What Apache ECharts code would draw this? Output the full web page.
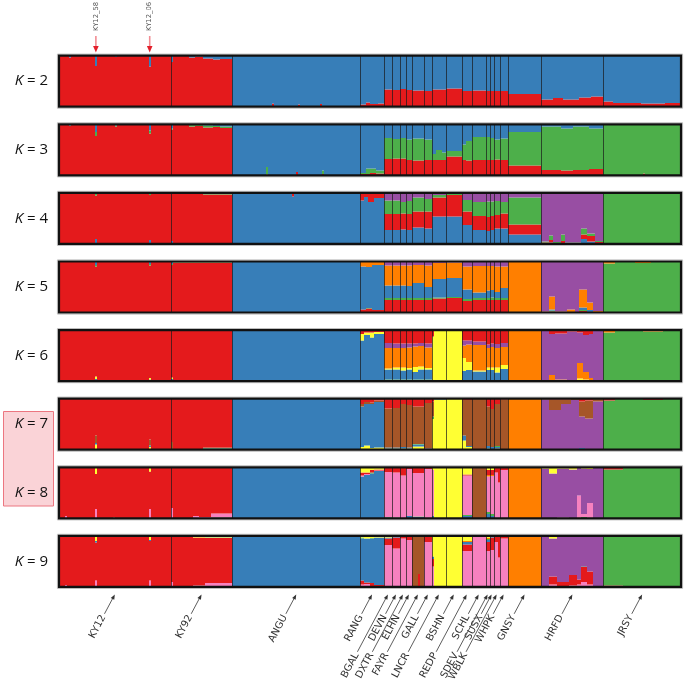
<!DOCTYPE html>
<html><head><meta charset="utf-8">
<script src="https://cdn.jsdelivr.net/npm/echarts@6/dist/echarts.min.js"></script>
<style>html,body{margin:0;padding:0;background:#fff}#c{width:686px;height:684px}</style>
</head><body><div id="c"></div>
<script>
// ---------- data ----------
const pops = ['KY12','KY92','ANGU','RANG','BGAL','DEVN','DXTR','ELHN','FAYR','GALL','LNCR','BSHN','REDP','SCHL','SDEV','SUSX','WBLK','WHPK','GNSY','HRFD','JRSY'];
const popSizes = [56,31,64,12,4,4,3,3,6,4,7,8,5,7,2,2,3,4,17,31,39];
const labelRow = [0,0,0,0,1,0,1,0,1,0,1,0,1,0,1,0,1,0,0,0,0]; // 0 = upper, 1 = lower
const kValues = [2,3,4,5,6,7,8,9];
const markedIds = ['KY12_58','KY12_06'];
const markedIdx = [18,45];
const palette = {R:'#e41a1c',B:'#377eb8',G:'#4daf4a',P:'#984ea3',O:'#ff7f00',Y:'#ffff33',N:'#a65628',K:'#f781bf'};

// stacking order (bottom -> top) of clusters for each K
const ord2 = ['R','B'];
const ord3 = ['R','G','B'];
const ord4 = ['B','R','G','P'];
const ord5 = ['R','G','B','O','P'];
const ord6 = ['G','B','Y','O','P','R'];
const ord7 = ['Y','B','G','O','P','N','R'];
const ord8 = ['B','G','K','O','P','N','R','Y'];
const ord9 = ['K','R','B','G','O','P','N','Y'];

// per population: blocks of [individuals, q1, q2, ...] in stacking order
const q2 = [
 [[5,.99,.01],[1,.96,.04],[12,.99,.01],[1,.8,.2],[9,.99,.01],[1,.97,.03],[16,.99,.01],[1,.79,.21],[10,.99,.01]],
 [[1,.88,.12],[8,.99,.01],[3,.96,.04],[4,.98,.02],[5,.95,.05],[4,.93,.07],[6,.94,.06]],
 [[20,.01,.99],[1,.06,.94],[12,.01,.99],[1,.04,.96],[10,.01,.99],[1,.05,.95],[19,.01,.99]],
 [[3,.04,.96],[2,.08,.92],[4,.05,.95],[3,.06,.94]],
 [[4,.34,.66]],[[4,.33,.67]],[[3,.35,.65]],[[3,.33,.67]],[[6,.32,.68]],[[4,.31,.69]],
 [[7,.34,.66]],[[8,.36,.64]],[[5,.31,.69]],[[7,.32,.68]],[[2,.31,.69]],[[2,.31,.69]],[[3,.31,.69]],[[4,.31,.69]],
 [[17,.25,.75]],
 [[6,.14,.86],[5,.17,.83],[8,.14,.86],[6,.18,.82],[6,.2,.8]],
 [[5,.1,.9],[14,.07,.93],[12,.06,.94],[8,.07,.93]]
];
const q3 = [
 [[5,.99,.005,.005],[1,.97,.01,.02],[12,.99,.005,.005],[1,.77,.08,.15],[9,.99,0,.01],[1,.96,.02,.02],[16,.99,.005,.005],[1,.82,.06,.12],[10,.99,.005,.005]],
 [[1,.9,.02,.08],[8,.99,.005,.005],[3,.96,.03,.01],[4,.97,.02,.01],[5,.94,.04,.02],[4,.95,.02,.03],[6,.93,.03,.04]],
 [[17,.01,0,.99],[1,.02,.14,.84],[14,.01,0,.99],[1,.06,0,.94],[12,.01,0,.99],[1,.03,.06,.91],[18,.01,0,.99]],
 [[3,.03,.02,.95],[2,.03,.1,.87],[3,.05,.08,.87],[4,.04,.05,.91]],
 [[4,.32,.41,.27]],[[4,.33,.38,.29]],[[3,.33,.4,.27]],[[3,.3,.4,.3]],[[6,.29,.43,.28]],[[4,.3,.4,.3]],
 [[2,.3,.12,.58],[3,.3,.2,.5],[2,.3,.15,.55]],[[8,.37,.11,.52]],[[2,.3,.3,.4],[3,.29,.38,.33]],
 [[7,.3,.45,.25]],[[2,.3,.45,.25]],[[2,.3,.43,.27]],[[3,.31,.39,.3]],[[4,.3,.42,.28]],
 [[17,.19,.66,.15]],
 [[10,.1,.86,.04],[6,.09,.83,.08],[8,.1,.86,.04],[7,.12,.8,.08]],
 [[20,.01,.99,0],[1,.04,.96,0],[18,.01,.99,0]]
];
const q4 = [
 [[18,0,.99,.005,.005],[1,.1,.85,.05,0],[26,0,.99,.01,0],[1,.08,.88,.04,0],[10,0,.99,.01,0]],
 [[1,.06,.92,.02,0],[15,0,.99,.01,0],[15,.02,.95,.02,.01]],
 [[30,.99,.01,0,0],[1,.93,.07,0,0],[33,.99,.01,0,0]],
 [[2,.85,.15,0,0],[2,.92,.08,0,0],[3,.82,.16,.02,0],[5,.9,.09,.01,0]],
 [[4,.27,.32,.26,.15]],[[4,.27,.32,.26,.15]],[[3,.28,.32,.22,.18]],[[3,.27,.32,.25,.16]],[[6,.32,.32,.27,.09]],[[4,.3,.34,.24,.12]],
 [[7,.54,.37,.05,.04]],[[8,.54,.42,.02,.02]],[[5,.37,.27,.22,.14]],
 [[7,.27,.28,.27,.18]],[[2,.25,.28,.3,.17]],[[2,.27,.28,.28,.17]],[[3,.3,.27,.27,.16]],[[4,.3,.3,.22,.18]],
 [[17,.18,.2,.53,.09]],
 [[4,.01,.02,.02,.95],[2,.03,.05,.08,.84],[4,.01,.01,.02,.96],[2,.02,.04,.12,.82],[8,.01,.01,.01,.97],[3,.1,.08,.12,.7],[4,.05,.1,.05,.8],[4,.02,.02,.02,.94]],
 [[10,0,.02,.98,0],[29,0,.01,.99,0]]
];
const q5 = [
 [[18,.99,0,.01,0,0],[1,.9,.03,.07,0,0],[26,.99,0,.01,0,0],[1,.92,.03,.05,0,0],[10,.99,0,.01,0,0]],
 [[1,.93,.02,.05,0,0],[30,.98,.01,.01,0,0]],
 [[64,.01,0,.99,0,0]],
 [[3,.06,0,.84,.1,0],[3,.08,.01,.8,.11,0],[6,.05,0,.88,.07,0]],
 [[4,.25,.03,.25,.39,.08]],[[4,.25,.03,.25,.39,.08]],[[3,.25,.03,.25,.39,.08]],[[3,.25,.03,.24,.4,.08]],[[6,.25,.03,.3,.35,.07]],[[4,.25,.03,.22,.42,.08]],
 [[7,.27,.02,.37,.31,.03]],[[8,.28,.02,.38,.3,.02]],[[5,.23,.03,.19,.45,.1]],
 [[7,.25,.03,.11,.52,.09]],[[2,.25,.03,.15,.48,.09]],[[2,.25,.04,.15,.47,.09]],[[3,.25,.03,.12,.5,.1]],[[4,.25,.03,.2,.42,.1]],
 [[17,0,0,0,1,0]],
 [[4,0,0,0,.02,.98],[3,.02,.02,.02,.25,.69],[6,0,0,0,.02,.98],[4,0,0,.01,.05,.94],[2,0,0,0,.01,.99],[4,.03,.02,.05,.35,.55],[3,.01,0,.04,.15,.8],[5,0,0,0,.03,.97]],
 [[6,0,.96,0,.04,0],[10,0,.99,0,.01,0],[8,0,.97,0,.03,0],[15,0,.99,0,.01,0]]
];
const q6 = [
 [[18,0,0,0,0,0,1],[1,0,.04,.05,0,0,.91],[26,0,0,0,0,0,1],[1,0,.03,.03,0,0,.94],[10,0,0,0,0,0,1]],
 [[1,0,.04,.03,0,0,.93],[30,0,.01,0,.01,0,.98]],
 [[64,0,.99,0,0,0,.01]],
 [[2,0,.8,.12,0,0,.08],[3,0,.9,.05,0,0,.05],[2,0,.85,.1,0,0,.05],[5,0,.92,.04,0,0,.04]],
 [[4,.03,.2,.02,.4,.1,.25]],[[4,.03,.2,.04,.38,.09,.26]],[[3,.03,.18,.06,.38,.09,.26]],[[3,.03,.2,.03,.4,.08,.26]],
 [[3,.03,.15,.1,.4,.06,.26],[3,.03,.2,.06,.4,.06,.25]],[[4,.03,.2,.03,.4,.08,.26]],
 [[1,0,.02,.85,0,0,.13],[6,0,.02,.97,0,0,.01]],[[8,0,.01,.98,0,0,.01]],
 [[2,.02,.18,.25,.25,.1,.2],[3,.02,.2,.15,.35,.08,.2]],
 [[7,.02,.17,.02,.5,.07,.22]],[[2,.02,.2,.05,.38,.07,.28]],[[2,.02,.2,.05,.4,.07,.26]],[[3,.02,.15,.1,.38,.08,.27]],[[4,.02,.22,.08,.35,.08,.25]],
 [[17,0,0,0,1,0,0]],
 [[4,0,0,0,.02,.97,.01],[3,0,0,.02,.1,.8,.08],[6,0,0,0,.03,.9,.07],[5,0,0,0,.02,.95,.03],[3,0,.02,.03,.3,.6,.05],[3,0,.01,.02,.15,.72,.1],[2,0,0,.01,.05,.86,.08],[5,0,0,0,.02,.96,.02]],
 [[6,.95,0,0,.03,0,.02],[14,.98,0,0,.01,0,.01],[10,.97,0,0,.02,0,.01],[9,.99,0,0,.01,0,0]]
];
const q7 = [
 [[18,0,0,0,0,0,0,1],[1,.1,.03,0,0,0,.15,.72],[26,0,0,0,0,0,0,1],[1,.05,.03,0,0,0,.12,.8],[10,0,0,0,0,0,0,1]],
 [[1,0,0,0,0,0,.15,.85],[15,0,0,0,0,0,0,1],[15,0,.02,.01,0,0,.01,.96]],
 [[64,0,1,0,0,0,0,0]],
 [[2,.05,.8,0,0,0,.05,.1],[3,.08,.82,0,0,0,.04,.06],[2,.03,.87,0,0,0,.03,.07],[5,.04,.9,0,0,0,.02,.04]],
 [[4,.02,.02,0,0,0,.77,.19]],[[4,.02,.02,0,0,0,.78,.18]],[[3,.02,.03,0,0,0,.85,.1]],[[3,.02,.02,0,0,0,.84,.12]],
 [[6,.06,.04,.01,0,0,.74,.15]],[[4,.01,.01,0,0,0,.9,.08]],
 [[1,.6,0,.05,0,0,.3,.05],[6,.98,.01,0,0,0,.01,0]],[[8,.99,.01,0,0,0,0,0]],
 [[2,.18,.1,0,0,0,.69,.03],[3,.05,.02,0,0,0,.9,.03]],
 [[7,0,0,0,0,0,.99,.01]],[[2,.02,.05,0,0,0,.78,.15]],[[2,0,.05,0,0,0,.75,.2]],[[3,.02,.03,.02,0,0,.83,.1]],[[4,0,0,0,0,0,.98,.02]],
 [[17,0,0,0,1,0,0,0]],
 [[4,0,0,0,0,.98,.01,.01],[6,0,0,0,0,.78,.2,.02],[5,0,0,0,0,.9,.08,.02],[4,0,0,0,0,.97,.02,.01],[3,0,.03,0,0,.62,.3,.05],[4,0,.01,0,0,.6,.35,.04],[5,0,0,0,0,.95,.04,.01]],
 [[6,0,0,.96,0,0,0,.04],[14,0,0,.99,0,0,0,.01],[10,0,0,.97,0,0,0,.03],[9,0,0,.99,0,0,0,.01]]
];
const q8 = [
 [[3,0,0,0,0,0,0,1,0],[1,0,0,.05,0,0,0,.95,0],[14,0,0,0,0,0,0,1,0],[1,0,0,.18,0,0,0,.69,.13],[8,0,0,0,0,0,0,1,0],[1,0,.02,0,0,0,0,.98,0],[17,0,0,0,0,0,0,1,0],[1,0,0,.18,0,0,0,.74,.08],[10,0,0,0,0,0,0,1,0]],
 [[1,0,0,.2,0,0,0,.8,0],[10,0,0,.01,0,0,0,.99,0],[3,0,0,.05,0,0,0,.95,0],[6,0,0,.03,0,0,0,.97,0],[11,.01,.01,.07,0,0,0,.91,0]],
 [[64,.99,0,.01,0,0,0,0,0]],
 [[2,.82,0,.02,0,0,0,.06,.1],[3,.85,0,.02,0,0,0,.03,.1],[2,.88,.02,0,0,0,0,.05,.05],[5,.93,0,.01,0,0,0,.02,.04]],
 [[4,.02,.01,.88,0,0,0,.08,.01]],[[4,.01,.01,.88,0,0,0,.1,0]],[[3,0,0,.84,0,0,0,.15,.01]],[[3,.05,0,.92,0,0,0,.03,0]],
 [[6,.03,.01,.85,0,0,0,.1,.01]],[[4,0,0,.97,0,0,0,.03,0]],
 [[1,.05,0,.9,0,0,0,0,.05],[6,0,0,.01,0,0,0,0,.99]],[[8,0,0,0,0,0,0,0,1]],
 [[5,.05,.01,.78,0,0,0,.02,.14]],
 [[7,0,0,.01,0,0,.99,0,0]],[[2,.08,.04,.7,.03,0,0,.1,.05]],[[2,.05,.03,.75,.02,0,0,.1,.05]],
 [[2,.02,0,.88,0,0,0,.1,0],[1,0,0,.7,0,0,0,.3,0]],[[4,0,0,.95,0,0,0,.05,0]],
 [[17,0,0,0,1,0,0,0,0]],
 [[4,0,0,0,0,.98,0,0,.02],[4,0,0,0,0,.88,0,0,.12],[6,0,0,.02,0,.96,0,0,.02],[4,0,0,.01,0,.95,0,0,.04],[2,0,0,.45,0,.55,0,0,0],[3,.01,.02,.05,0,.9,0,0,.02],[3,0,0,.3,0,.67,0,0,.03],[5,0,0,0,0,.99,0,0,.01]],
 [[10,0,.96,0,0,0,0,.04,0],[29,0,.99,0,0,0,0,.01,0]]
];
const q9 = [
 [[3,0,1,0,0,0,0,0,0],[1,.04,.96,0,0,0,0,0,0],[14,0,1,0,0,0,0,0,0],[1,.13,.74,.03,0,0,0,0,.1],[26,0,1,0,0,0,0,0,0],[1,.13,.77,.02,0,0,0,0,.08],[10,0,1,0,0,0,0,0,0]],
 [[1,.1,.9,0,0,0,0,0,0],[10,.01,.98,0,0,0,0,0,.01],[6,.03,.94,0,0,0,0,0,.03],[14,.08,.88,.01,0,0,0,0,.03]],
 [[64,0,0,1,0,0,0,0,0]],
 [[2,.05,.08,.82,.02,0,0,0,.03],[3,.06,.03,.86,0,0,0,0,.05],[2,.02,.06,.87,.01,0,0,0,.04],[5,.02,.02,.93,0,0,0,0,.03]],
 [[4,.82,.13,.02,0,0,0,0,.03]],[[4,.75,.22,.01,0,0,0,0,.02]],[[3,.95,.04,0,0,0,0,0,.01]],[[3,.92,.07,0,0,0,0,0,.01]],
 [[3,0,.02,0,0,0,0,.98,0],[1,0,.25,0,0,0,0,.75,0],[2,0,.02,0,0,0,0,.98,0]],[[4,.88,.1,0,0,0,0,0,.02]],
 [[1,.4,.15,.05,0,0,0,0,.4],[6,0,0,.01,0,0,0,0,.99]],[[8,0,.01,0,0,0,0,0,.99]],
 [[5,.7,.13,.05,0,.02,0,0,.1]],
 [[7,.98,.02,0,0,0,0,0,0]],[[2,.7,.18,.04,.02,.02,0,0,.04]],[[2,.72,.25,.01,0,0,0,0,.02]],
 [[2,.88,.1,0,0,0,0,0,.02],[1,.58,.4,0,0,0,0,0,.02]],[[4,.95,.04,0,0,0,0,0,.01]],
 [[17,0,0,0,0,1,0,0,0]],
 [[4,0,.02,0,0,0,.96,0,.02],[4,.05,.15,0,0,0,.75,0,.05],[6,0,.1,0,0,0,.88,0,.02],[4,.03,.2,0,0,0,.75,0,.02],[2,.05,.1,0,0,0,.85,0,0],[3,.1,.3,.01,0,0,.59,0,0],[3,.05,.25,0,0,0,.68,0,.02],[5,0,.02,0,0,0,.97,0,.01]],
 [[10,0,.03,0,.97,0,0,0,0],[29,0,.01,0,.99,0,0,0,0]]
];

// ---------- layout (styles) ----------
const GL = 59, GW = 622, GH = 51, TOP0 = 55.7, PITCH = 68.6;
const orders = [ord2,ord3,ord4,ord5,ord6,ord7,ord8,ord9];
const qs = [q2,q3,q4,q5,q6,q7,q8,q9];
const colorKeys = Object.keys(palette);
const total = popSizes.reduce((a,b)=>a+b,0);
const starts = []; { let s=0; popSizes.forEach(n=>{starts.push(s); s+=n;}); }
const bounds = starts.slice(1);

function expand(q, order){
  const items = [];
  q.forEach((blocks, pi) => {
    let x = starts[pi], used = 0;
    blocks.forEach((b, bi) => {
      let n = (bi === blocks.length-1) ? popSizes[pi]-used : b[0];
      const vals = b.slice(1), sum = vals.reduce((a,c)=>a+c,0);
      let cum = 0;
      vals.forEach((v, c) => { if (v > 0) { const p = v/sum; items.push([x, x+n, cum, cum+p, colorKeys.indexOf(order[c])]); cum += p; } });
      x += n; used += n;
    });
  });
  return items;
}

const grids=[], xAxes=[], yAxes=[], series=[];
kValues.forEach((k, i) => {
  const top = TOP0 + i*PITCH;
  grids.push({left: GL, top: top, width: GW, height: GH});
  xAxes.push({type:'value', gridIndex:i, min:0, max:total, show:false});
  yAxes.push({type:'value', gridIndex:i, min:0, max:1, show:false});
  series.push({
    type:'custom', xAxisIndex:i, yAxisIndex:i, clip:true, silent:true, z:2,
    data: expand(qs[i], orders[i]),
    renderItem: (params, api) => {
      const a = api.coord([api.value(0), api.value(3)]);
      const b = api.coord([api.value(1), api.value(2)]);
      const x0 = Math.round(a[0]), x1 = Math.round(b[0]);
      const y0 = Math.round(a[1]*2)/2, y1 = Math.round(b[1]*2)/2;
      return {type:'rect', shape:{x:x0, y:y0, width:x1-x0, height:y1-y0},
              style:{fill: palette[colorKeys[api.value(4)]]}};
    },
    encode:{x:[0,1], y:[2,3]}
  });
  series.push({
    type:'custom', xAxisIndex:i, yAxisIndex:i, clip:true, silent:true, z:3,
    data: bounds.map(b => [b]),
    renderItem: (params, api) => {
      const a = api.coord([api.value(0), 1]);
      const b = api.coord([api.value(0), 0]);
      const x = Math.round(a[0]) + 0.5;
      return {type:'line', shape:{x1:x, y1:a[1], x2:x, y2:b[1]}, style:{stroke:'rgba(25,25,25,0.7)', lineWidth:1}};
    },
    encode:{x:0}
  });
});

const chart = echarts.init(document.getElementById('c'), null, {renderer:'canvas'});
chart.setOption({animation:false, backgroundColor:'#fff', grid:grids, xAxis:xAxes, yAxis:yAxes, series:series});

// ---------- annotations ----------
const g = [];
g.push({type:'rect', z:1, shape:{x:3.5, y:411.5, width:50, height:94.5}, style:{fill:'#fad3d7', stroke:'#ec7680', lineWidth:1}});
kValues.forEach((k, i) => {
  const top = TOP0 + i*PITCH;
  g.push({type:'rect', z:49, shape:{x:GL-1.6, y:top-1.6, width:GW+3.2, height:GH+3.2}, style:{fill:'none', stroke:'#bdbdbd', lineWidth:1}});
  g.push({type:'rect', z:50, shape:{x:GL, y:top, width:GW, height:GH}, style:{fill:'none', stroke:'#111', lineWidth:2.2}});
  g.push({type:'text', z:10, x:48, y:top+GH/2,
    style:{text:'{i|K} = '+k, font:'15px "Open Sans"', fill:'#111', align:'right', verticalAlign:'middle',
      rich:{i:{fontStyle:'italic', fontSize:15, fontFamily:'Open Sans', fill:'#111'}}}});
});
markedIds.forEach((id, j) => {
  const x = chart.convertToPixel({xAxisIndex:0}, markedIdx[j]+0.5);
  g.push({type:'text', z:10, x:x, y:31, rotation:Math.PI/2,
    style:{text:id, font:'6.8px "DejaVu Sans"', fill:'#555', align:'left', verticalAlign:'middle'}});
  g.push({type:'line', z:10, shape:{x1:x, y1:36, x2:x, y2:47}, style:{stroke:'#f28c93', lineWidth:1.6}});
  g.push({type:'polygon', z:10, shape:{points:[[x-2.8,46],[x+2.8,46],[x,52.5]]}, style:{fill:'#e3202b'}});
});
const th = 62*Math.PI/180, ux = Math.cos(th), uy = -Math.sin(th);
const tipY = TOP0 + 7*PITCH + GH + 7.5;
pops.forEach((name, pi) => {
  const cx = chart.convertToPixel({xAxisIndex:7}, starts[pi] + popSizes[pi]/2);
  const L = labelRow[pi] ? 67 : 24;
  const ex = cx - L*ux, ey = tipY - L*uy;
  g.push({type:'text', z:10, x:ex, y:ey, rotation:th,
    style:{text:name, font:'10px "DejaVu Sans"', fill:'#333', align:'right', verticalAlign:'middle'}});
  g.push({type:'line', z:10, shape:{x1:ex+2*ux, y1:ey+2*uy, x2:cx-3*ux, y2:tipY-3*uy}, style:{stroke:'#333', lineWidth:0.8}});
  const bx = cx - 5*ux, by = tipY - 5*uy, nx = -uy, ny = ux;
  g.push({type:'polygon', z:10, shape:{points:[[cx,tipY],[bx+2*nx,by+2*ny],[bx-2*nx,by-2*ny]]}, style:{fill:'#333'}});
});
chart.setOption({graphic:g});
</script></body></html>
